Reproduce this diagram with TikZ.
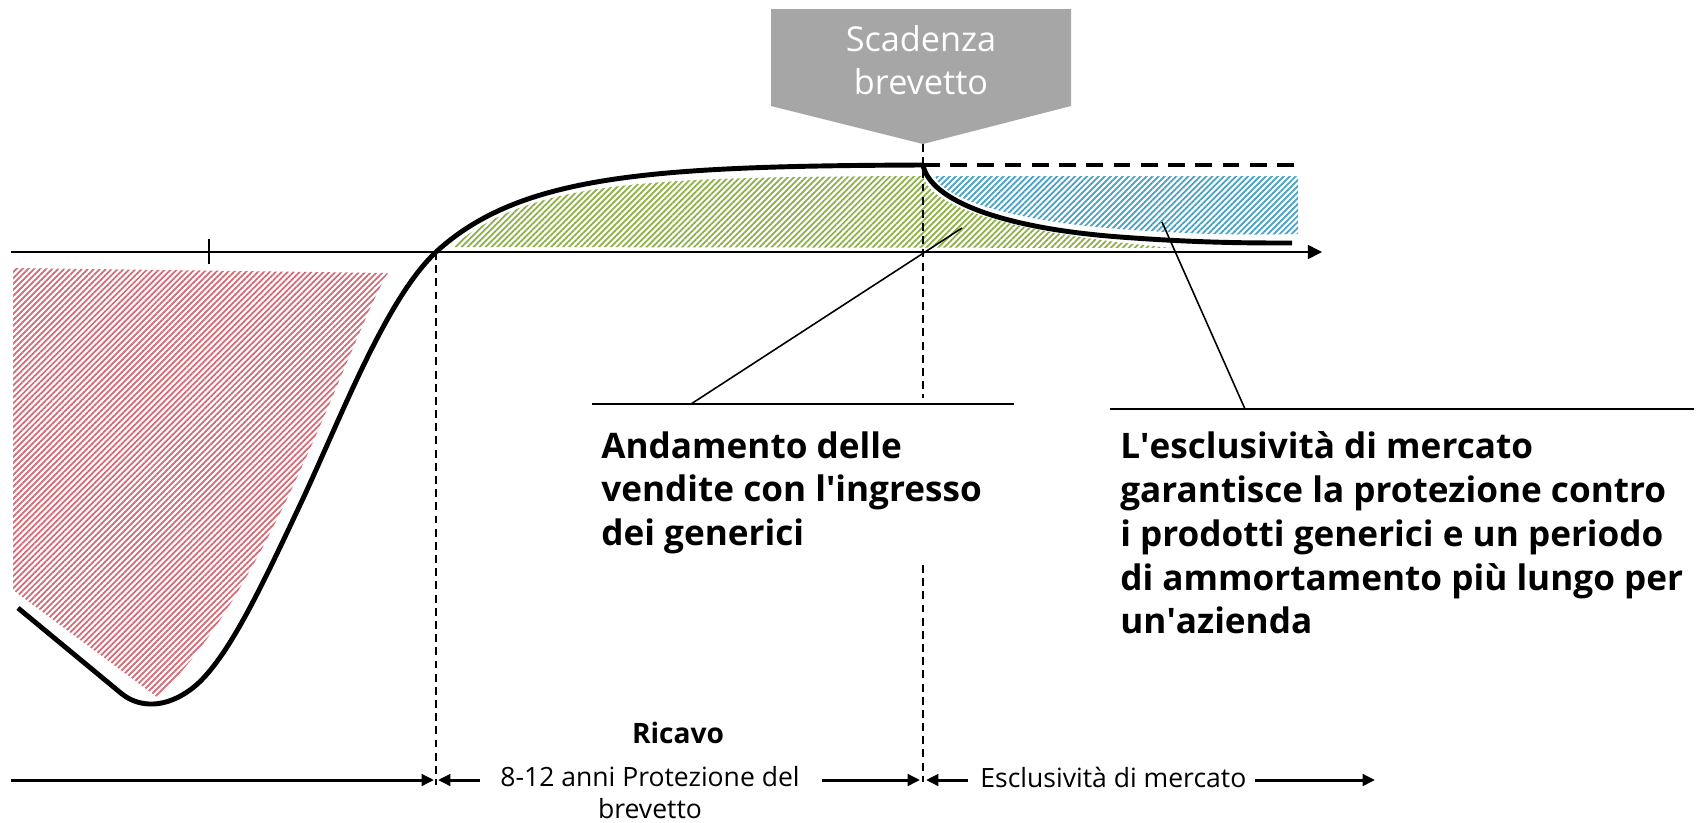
\documentclass[tikz,border=0pt]{standalone}
\usepackage{fontspec}
\setmainfont{Open Sans}
\usetikzlibrary{arrows.meta,patterns.meta}
\definecolor{calloutgray}{RGB}{166,166,166}
\definecolor{hatchred}{RGB}{212,105,115}
\definecolor{hatchgreen}{RGB}{140,175,70}
\definecolor{hatchblue}{RGB}{70,160,195}
\tikzset{
  hatch/.style={pattern={Lines[angle=45,distance=2.4pt,line width=1pt]},pattern color=#1},
  guide/.style={line width=0.7pt,dash pattern=on 4.5pt off 3pt},
  sales/.style={line width=2.8pt,line join=round},
  spanarrow/.style={line width=1.7pt,-{Triangle[length=7pt,width=6.5pt]}},
  bigtext/.style={font=\bfseries\fontsize{20}{25}\selectfont,align=left,anchor=north west,inner sep=0pt},
  spantext/.style={font=\fontsize{15.1}{18.4}\selectfont,inner sep=0pt}
}

\begin{document}
\begin{tikzpicture}[x=0.02cm,y=-0.02cm]
    \useasboundingbox (0,0) rectangle (1703,822);
    \path[hatch=hatchred] (13,268) -- (388,273) .. controls (352,330) and (272,590) .. (157,697) -- (13,590) -- cycle;
    \path[hatch=hatchgreen] (452,247) .. controls (530,180) and (650,177) .. (923,176)
      .. controls (930,205) and (1000,232) .. (1173,248) -- cycle;
    \path[hatch=hatchblue] (935,176) -- (1298,176) -- (1298,234)
      .. controls (1250,235) and (1200,235) .. (1120,229) .. controls (1000,220) and (940,195) .. (935,176) -- cycle;
    \coordinate (axl) at (11,252);
    \coordinate (axr) at (1322,252);
    \draw[line width=0.9pt,-{Triangle[length=8pt,width=8pt]}] (axl) -- (axr);
    \draw[line width=0.9pt] (209,239) -- (209,264);
    \fill[calloutgray] (771,9) -- (1071,9) -- (1071,106) -- (923,144) -- (771,106) -- cycle;
    \node[white,font=\fontsize{19.5}{24.4}\selectfont,align=center] (expiry) at (921,60) {Scadenza\\brevetto};
    \coordinate (tip) at (923,144);
    \coordinate (peak) at (923,165);
    \coordinate (cross) at (436,252);
    \draw[guide] (tip) -- (923,398);
    \draw[guide] (923,565) -- (923,782);
    \draw[guide] (cross) -- (436,785);
    \draw[sales] (18,608) -- (122,694) .. controls (140,708) and (165,708) .. (190,690)
      .. controls (225,665) and (260,590) .. (300,505) .. controls (340,420) and (385,300) .. (cross)
      .. controls (520,175) and (650,166) .. (peak);
    \draw[sales] (peak) .. controls (930,200) and (1000,228) .. (1120,237)
      .. controls (1200,243) and (1250,243) .. (1292,243);
    \draw[line width=2.8pt,dash pattern=on 9.5pt off 6pt] (peak) -- (1303,165);
    % leader lines
    \coordinate (genl) at (592,404);
    \coordinate (genr) at (1014,404);
    \coordinate (genfoot) at (691,404);
    \coordinate (gentip) at (962,228);
    \coordinate (excl) at (1110,409);
    \coordinate (excr) at (1694,409);
    \coordinate (excfoot) at (1245,409);
    \coordinate (exctip) at (1162,222);
    \draw[line width=0.9pt] (genl) -- (genr);
    \draw[line width=0.9pt] (genfoot) -- (gentip);
    \draw[line width=0.9pt] (excl) -- (excr);
    \draw[line width=0.9pt] (excfoot) -- (exctip);
    \node[bigtext] (genlbl) at (601,431) {Andamento delle\\vendite con l\textquotesingle ingresso\\dei generici};
    \node[bigtext] (exclbl) at (1120,431) {L\textquotesingle esclusività di mercato\\garantisce la protezione contro\\i prodotti generici e un periodo\\di ammortamento più lungo per\\un\textquotesingle azienda};
    % time spans
    \node[font=\bfseries\fontsize{16}{19}\selectfont] (ricavo) at (678,733) {Ricavo};
    \node[spantext,align=center,anchor=north] (protlbl) at (650,766) {8-12 anni Protezione del\\brevetto};
    \node[spantext,anchor=base west] (marklbl) at (980,787) {Esclusività di mercato};
    \coordinate (s1a) at (11,780);
    \coordinate (s1b) at (434,780);
    \coordinate (s2a) at (480,780);
    \coordinate (s2b) at (438,780);
    \coordinate (s3a) at (822,780);
    \coordinate (s3b) at (920,780);
    \coordinate (s4a) at (968,780);
    \coordinate (s4b) at (926,780);
    \coordinate (s5a) at (1255,780);
    \coordinate (s5b) at (1375,780);
    \draw[spanarrow] (s1a) -- (s1b);
    \draw[spanarrow] (s2a) -- (s2b);
    \draw[spanarrow] (s3a) -- (s3b);
    \draw[spanarrow] (s4a) -- (s4b);
    \draw[spanarrow] (s5a) -- (s5b);
\end{tikzpicture}
\end{document}
